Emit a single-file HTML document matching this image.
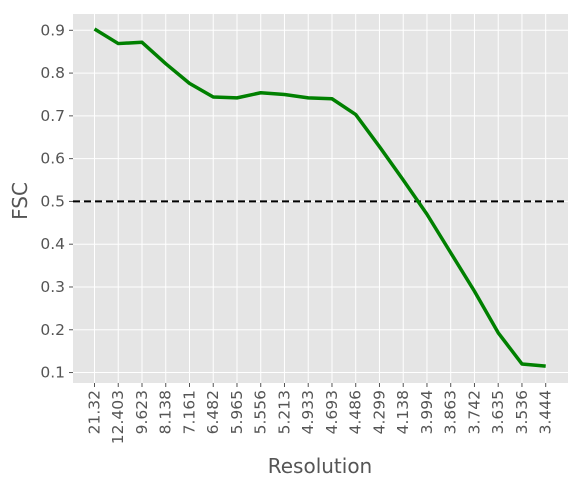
<!DOCTYPE html>
<html><head><meta charset="utf-8"><style>
body{margin:0;background:#fff;}
svg{display:block;font-family:"DejaVu Sans","Liberation Sans",sans-serif;}
</style></head><body>
<svg id="chart" width="581" height="486">
<rect x="73" y="14" width="495" height="369" fill="#e5e5e5"/>
<g id="grid"></g><g id="ticks"></g>
<line x1="73" x2="568" id="thr" stroke="#000" stroke-width="2" stroke-dasharray="7,4"/>
<path id="line" fill="none" stroke="#008000" stroke-width="3.5" stroke-linejoin="round"/>
<text x="20" y="201" transform="rotate(-90 20 201)" text-anchor="middle" dominant-baseline="central" font-size="20" fill="#555">FSC</text>
<text x="320" y="473" text-anchor="middle" font-size="20" fill="#555">Resolution</text>
</svg>
<script>
const categories=["21.32","12.403","9.623","8.138","7.161","6.482","5.965","5.556","5.213","4.933","4.693","4.486","4.299","4.138","3.994","3.863","3.742","3.635","3.536","3.444"];
const fsc=[0.903,0.869,0.872,0.822,0.776,0.744,0.742,0.754,0.750,0.742,0.740,0.703,0.628,0.55,0.47,0.38,0.29,0.193,0.120,0.115];
const yTicks=[0.1,0.2,0.3,0.4,0.5,0.6,0.7,0.8,0.9];
const threshold=0.5;
const NS="http://www.w3.org/2000/svg";
const xs=i=>94.5+i*(545.7-94.5)/(categories.length-1);
const ys=v=>30.3+(0.9-v)*427.8;
const grid=document.getElementById('grid'),ticks=document.getElementById('ticks');
function mk(t,a,p){const e=document.createElementNS(NS,t);for(const k in a)e.setAttribute(k,a[k]);p.appendChild(e);return e;}
yTicks.forEach(v=>{
 const g=mk('line',{x1:73,x2:568,y1:ys(v),y2:ys(v),stroke:'#fff','stroke-width':1},grid);
 
 
 const tk=mk('line',{x1:69,x2:73,y1:ys(v),y2:ys(v),stroke:'#555'},ticks);
 
 
 const t=mk('text',{x:65,y:ys(v),'text-anchor':'end','dominant-baseline':'central','font-size':15.5,fill:'#555'},ticks);
 t.textContent=v.toFixed(1);
 
 
});
categories.forEach((c,i)=>{
 const x=xs(i);
 const g=mk('line',{x1:x,x2:x,y1:14,y2:383,stroke:'#fff','stroke-width':1},grid);
 
 
 const tk=mk('line',{x1:x,x2:x,y1:383,y2:387,stroke:'#555'},ticks);
 
 
 const t=mk('text',{x:x,y:390,transform:`rotate(-90 ${x} 390)`,'text-anchor':'end','dominant-baseline':'central','font-size':15.5,fill:'#555'},ticks);
 t.textContent=c;
 
 
});
document.getElementById('thr').setAttribute('y1',ys(threshold));
document.getElementById('thr').setAttribute('y2',ys(threshold));
document.getElementById('line').setAttribute('d',fsc.map((v,i)=>(i?'L':'M')+xs(i)+','+ys(v)).join(''));
</script>
</body></html>
